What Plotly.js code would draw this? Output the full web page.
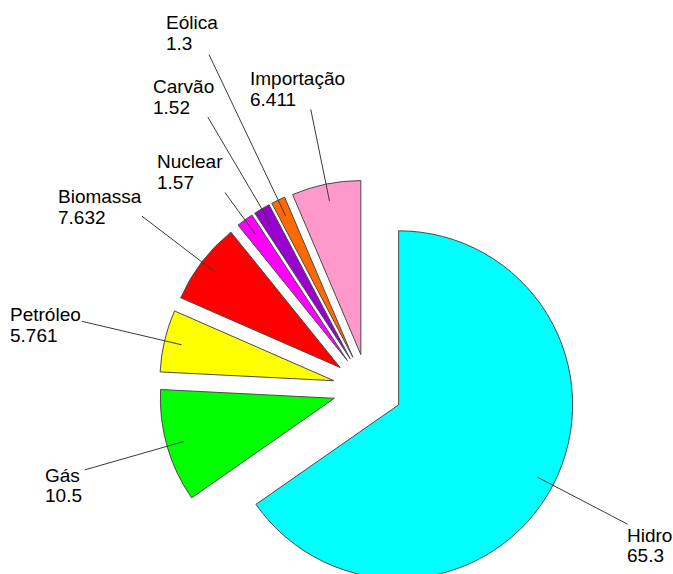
<!DOCTYPE html>
<html>
<head>
<meta charset="utf-8">
<script src="https://cdn.plot.ly/plotly-3.0.1.min.js"></script>
<style>
html, body { margin: 0; padding: 0; overflow: hidden; background: #fff; }
#chart { width: 673px; height: 600px; }
</style>
</head>
<body>
<div id="chart"></div>
<script>
// ---- data ----
const labels = ["Hidro", "Gás", "Petróleo", "Biomassa", "Nuclear", "Carvão", "Eólica", "Importação"];
const values = [65.3, 10.5, 5.761, 7.632, 1.57, 1.52, 1.3, 6.411];
const valueText = ["65.3", "10.5", "5.761", "7.632", "1.57", "1.52", "1.3", "6.411"];
const colors = ["#00FFFF", "#00FF00", "#FFFF00", "#FF0000", "#FF00FF", "#9A00CD", "#FF6A00", "#FF99CC"];

// ---- layout configuration ----
const W = 673, H = 600;
const CX = 367.8, CY = 388.7, R = 174, PULL = 0.2;
const LINE_START = 1.1;
const lineEndR = [1.684, 1.693, 1.688, 1.633, 1.394, 1.810, 2.126, 1.638];
const textOff = [[-0.7, 11], [-40, 5.3], [-71.7, -6.3], [-84, -19.7], [-67.7, -31], [-55, -30.7], [-43, -32], [-61, -31]];
const LINE_GAP = 20.7;
const FONT = { family: "Liberation Sans, Arial, sans-serif", size: 19, color: "#000" };

const half = R * (1 + PULL);
const domain = {
  x: [(CX - half) / W, (CX + half) / W],
  y: [1 - (CY + half) / H, 1 - (CY - half) / H]
};

const total = values.reduce((a, b) => a + b, 0);
const shapes = [], annotations = [];
let cum = 0;
values.forEach((v, i) => {
  const a0 = 90 - cum / total * 360;
  const a1 = 90 - (cum + v) / total * 360;
  cum += v;
  const mid = (a0 + a1) / 2 * Math.PI / 180;
  const ux = Math.cos(mid), uy = -Math.sin(mid);
  const x1 = CX + R * LINE_START * ux, y1 = CY + R * LINE_START * uy;
  const x2 = CX + R * lineEndR[i] * ux, y2 = CY + R * lineEndR[i] * uy;
  shapes.push({
    type: "line", xref: "paper", yref: "paper",
    x0: x1 / W, y0: 1 - y1 / H, x1: x2 / W, y1: 1 - y2 / H,
    line: { color: "#3a3a3a", width: 1 }
  });
  const tx = x2 + textOff[i][0], ty = y2 + textOff[i][1];
  [labels[i], valueText[i]].forEach((t, k) => {
    annotations.push({
      xref: "paper", yref: "paper",
      x: tx / W, y: 1 - (ty + k * LINE_GAP) / H,
      xanchor: "left", yanchor: "middle",
      text: t, showarrow: false, align: "left",
      font: FONT, borderpad: 0, borderwidth: 0
    });
  });
});

const trace = {
  type: "pie",
  labels: labels,
  values: values,
  sort: false,
  direction: "clockwise",
  rotation: 0,
  pull: values.map(() => PULL),
  marker: { colors: colors, line: { color: "#4a4a4a", width: 1 } },
  textinfo: "none",
  hoverinfo: "none",
  showlegend: false,
  domain: domain
};

Plotly.newPlot("chart", [trace], {
  width: W, height: H,
  margin: { l: 0, r: 0, t: 0, b: 0, pad: 0 },
  paper_bgcolor: "#fff",
  showlegend: false,
  shapes: shapes,
  annotations: annotations
}, { staticPlot: true, displayModeBar: false });
</script>
</body>
</html>
